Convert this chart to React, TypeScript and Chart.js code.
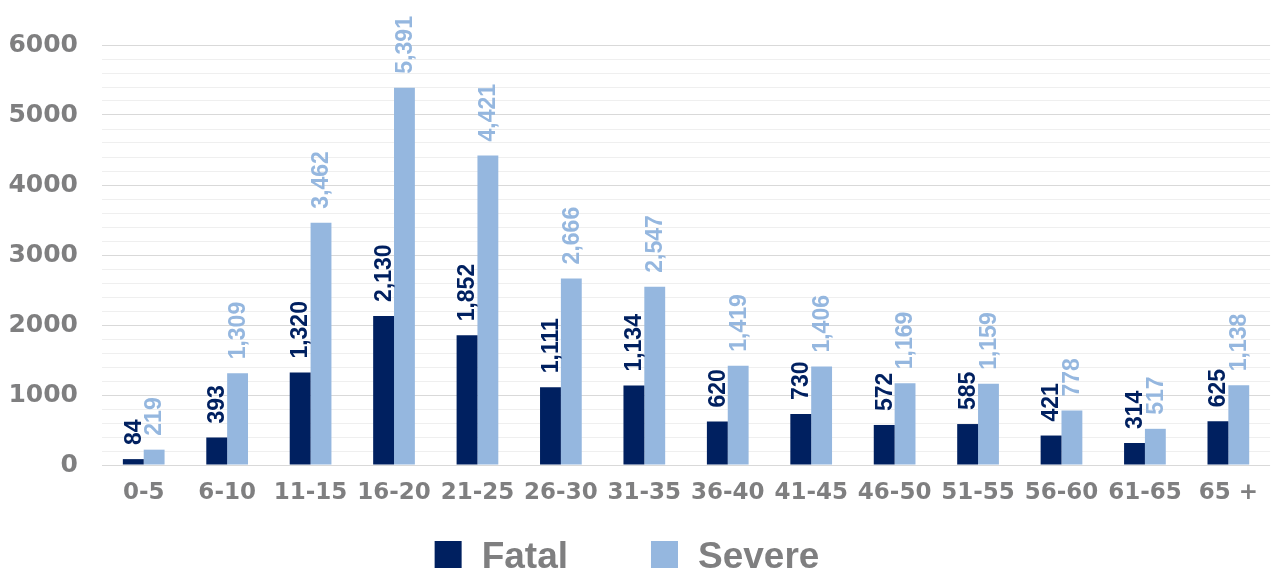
import React, { useEffect, useRef } from "react";
import { Chart, registerables } from "chart.js";

Chart.register(...registerables);

const categories = ["0-5", "6-10", "11-15", "16-20", "21-25", "26-30", "31-35", "36-40", "41-45", "46-50", "51-55", "56-60", "61-65", "65 +"];
const fatal = [84, 393, 1320, 2130, 1852, 1111, 1134, 620, 730, 572, 585, 421, 314, 625];
const severe = [219, 1309, 3462, 5391, 4421, 2666, 2547, 1419, 1406, 1169, 1159, 778, 517, 1138];
const seriesNames = ["Fatal", "Severe"];
const seriesColors = ["#002060", "#95b7df"];

const AXIS_FONT = "'DejaVu Sans', sans-serif";
const LABEL_FONT = "'Liberation Sans', Arial, sans-serif";
const GRAY = "#7f7f80";

const labelPlugin = {
  id: "barLabels",
  afterDatasetsDraw(chart: any) {
    const ctx = chart.ctx;
    chart.data.datasets.forEach((ds: any, di: number) => {
      const meta = chart.getDatasetMeta(di);
      meta.data.forEach((bar: any, i: number) => {
        const v = ds.data[i];
        const txt = v.toLocaleString("en-US");
        ctx.save();
        ctx.translate(bar.x, bar.y - 14);
        ctx.rotate(-Math.PI / 2);
        ctx.font = `bold 23px ${LABEL_FONT}`;
        ctx.fillStyle = seriesColors[di];
        ctx.textAlign = "left";
        ctx.textBaseline = "middle";
        ctx.fillText(txt, 0, 1);
        ctx.restore();
      });
    });
  },
};

const legendPlugin = {
  id: "customLegend",
  afterDraw(chart: any) {
    const ctx = chart.ctx;
    ctx.save();
    ctx.font = `bold 37px ${LABEL_FONT}`;
    const box = 27;
    const boxGap = 20;
    const itemGap = 83;
    const widths = seriesNames.map((n) => box + boxGap + ctx.measureText(n).width);
    const total = widths.reduce((a, b) => a + b, 0) + itemGap * (seriesNames.length - 1);
    let x = chart.width / 2 - total / 2 - 9;
    const bottom = chart.height;
    seriesNames.forEach((n, i) => {
      ctx.fillStyle = seriesColors[i];
      ctx.fillRect(x, bottom - box - 1, box, box);
      ctx.fillStyle = GRAY;
      ctx.textAlign = "left";
      ctx.textBaseline = "alphabetic";
      ctx.fillText(n, x + box + boxGap, bottom - 1);
      x += widths[i] + itemGap;
    });
    ctx.restore();
  },
};

export default function App() {
  const ref = useRef<HTMLCanvasElement>(null);
  useEffect(() => {
    const chart = new Chart(ref.current!, {
      type: "bar",
      data: {
        labels: categories,
        datasets: [
          { label: seriesNames[0], data: fatal, backgroundColor: seriesColors[0] },
          { label: seriesNames[1], data: severe, backgroundColor: seriesColors[1] },
        ],
      },
      options: {
        animation: false,
        responsive: false,
        maintainAspectRatio: false,
        layout: { padding: { top: 45, left: 4, right: -4, bottom: 0 } },
        datasets: { bar: { categoryPercentage: 0.5, barPercentage: 1 } },
        plugins: {
          tooltip: { enabled: false },
          legend: { display: false },
        },
        scales: {
          x: {
            grid: { display: false, drawTicks: false },
            border: { display: false },
            ticks: { color: GRAY, font: { family: AXIS_FONT, size: 23, weight: "bold" }, padding: 14, maxRotation: 0 },
            afterFit: (s: any) => {
              s.height = 104;
            },
          },
          y: {
            min: 0,
            max: 6000,
            border: { display: false },
            grid: {
              color: (c: any) => (c.tick && c.tick.value % 1000 === 0 ? "#d9d9d9" : "#efefef"),
              lineWidth: 1,
              drawTicks: false,
            },
            ticks: {
              stepSize: 200,
              autoSkip: false,
              color: GRAY,
              padding: 24,
              font: { family: AXIS_FONT, size: 25, weight: "bold" },
              callback: (v: any) => (v % 1000 === 0 ? String(v) : ""),
            },
            afterFit: (s: any) => {
              s.width = 98;
            },
          },
        },
      },
      plugins: [labelPlugin, legendPlugin],
    });
    return () => chart.destroy();
  }, []);
  return (
    <div style={{ position: "fixed", left: 0, top: 0, width: 1272, height: 569, background: "#fff" }}>
      <canvas ref={ref} width={1272} height={569} />
    </div>
  );
}
